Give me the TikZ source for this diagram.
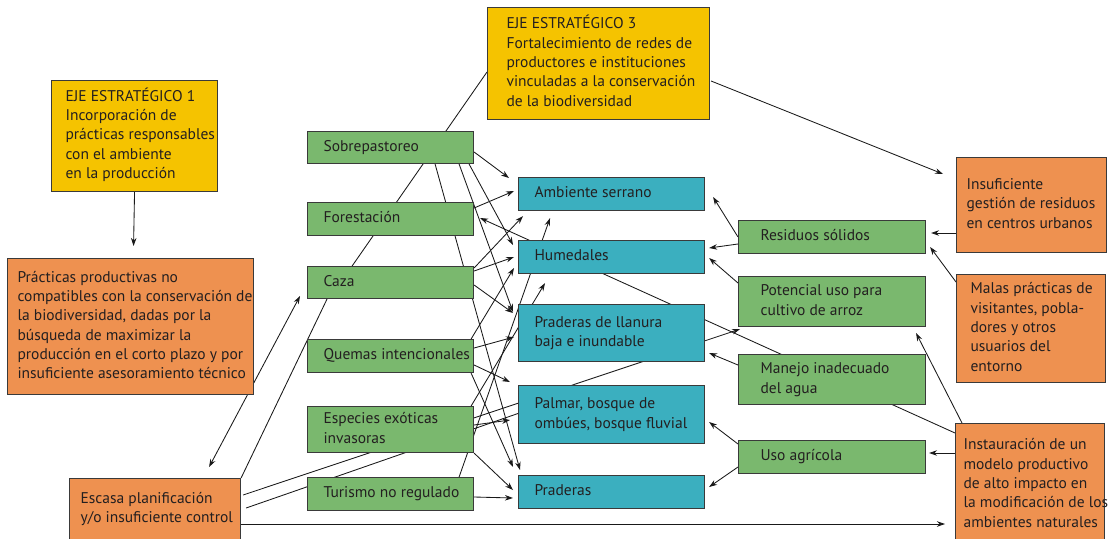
\documentclass[tikz,border=0pt]{standalone}
\usepackage{fontspec}
\setmainfont{PT Sans}
\usetikzlibrary{arrows.meta,calc}
\definecolor{gfill}{HTML}{7AB86E}
\definecolor{tfill}{HTML}{3BAFBF}
\definecolor{ofill}{HTML}{EE9150}
\definecolor{yfill}{HTML}{F5C300}
\definecolor{bcol}{HTML}{3A3A3A}
\definecolor{tcol}{HTML}{231F20}
\pgfdeclarelayer{bg}
\pgfsetlayers{bg,main}
\newcommand\bx[2]{\makebox[#1][l]{\begin{tabular}{@{}l@{}}#2\end{tabular}}}
\begin{document}
\begin{tikzpicture}[x=1pt,y=-1pt,
  box/.style={draw=bcol, line width=1.1pt, anchor=north west, inner ysep=0pt, text=tcol,
    font=\fontsize{15.5}{19.3}\selectfont},
  gbox/.style={box, fill=gfill, inner xsep=16pt, minimum width=166pt},
  tbox/.style={box, fill=tfill, inner xsep=16pt, minimum width=186pt},
  rbox/.style={box, fill=gfill, inner xsep=22pt, minimum width=187pt},
  obox/.style={box, fill=ofill},
  ybox/.style={box, fill=yfill},
  conn/.style={line width=0.85pt, draw=black!90},
  arr/.style={conn, -{Stealth[length=8pt,width=5.5pt]}},
  darr/.style={conn, {Stealth[length=8pt,width=5.5pt]}-{Stealth[length=8pt,width=5.5pt]}},
]
\useasboundingbox (0,0) rectangle (1118,538);

% strategic axes
\node[ybox, inner xsep=14pt, minimum width=166pt, minimum height=111pt] (eje1) at (51,80)
  {\bx{138pt}{EJE ESTRATÉGICO 1\\Incorporación de\\prácticas responsables\\con el ambiente\\en la producción}};
\node[ybox, inner xsep=19pt, minimum width=222pt, minimum height=112pt] (eje3) at (487,7)
  {\bx{184pt}{EJE ESTRATÉGICO 3\\Fortalecimiento de redes de\\productores e instituciones\\vinculadas a la conservación\\de la biodiversidad}};

% orange causes
\node[obox, inner xsep=10pt, minimum width=246pt, minimum height=136pt] (prac) at (7,258)
  {\bx{226pt}{Prácticas productivas no\\compatibles con la conservación de\\la biodiversidad, dadas por la\\búsqueda de maximizar la\\producción en el corto plazo y por\\insuficiente asesoramiento técnico}};
\node[obox, inner xsep=11pt, minimum width=171pt, minimum height=61pt] (esc) at (69,478)
  {\bx{149pt}{Escasa planificación\\y/o insuficiente control}};
\node[obox, inner xsep=10pt, minimum width=150pt, minimum height=95pt] (insf) at (956,157)
  {\bx{130pt}{Insuficiente\\gestión de residuos\\en centros urbanos}};
\node[obox, inner xsep=14pt, minimum width=149pt, minimum height=108pt] (mal) at (956,274)
  {\bx{121pt}{Malas prácticas de\\visitantes, pobla-\\dores y otros\\usuarios del\\entorno}};
\node[obox, inner xsep=8pt, minimum width=149pt, minimum height=122pt] (inst) at (955,423)
  {\bx{133pt}{Instauración de un\\modelo productivo\\de alto impacto en\\la modificación de los\\ambientes naturales}};

% green threats (left)
\node[gbox, minimum height=32pt] (sob) at (307,131) {\bx{134pt}{Sobrepastoreo}};
\node[gbox, minimum height=33pt] (for) at (307,202) {\bx{134pt}{Forestación}};
\node[gbox, minimum height=32pt] (caz) at (307,266) {\bx{134pt}{Caza}};
\node[gbox, minimum height=33pt] (que) at (307,339) {\bx{134pt}{Quemas intencionales}};
\node[gbox, minimum height=46pt] (esp) at (307,406) {\bx{134pt}{Especies exóticas\\invasoras}};
\node[gbox, minimum height=33pt] (tur) at (307,477) {\bx{134pt}{Turismo no regulado}};

% teal environments
\node[tbox, minimum height=33pt] (amb) at (518,177) {\bx{154pt}{Ambiente serrano}};
\node[tbox, minimum height=33pt] (hum) at (518,240) {\bx{154pt}{Humedales}};
\node[tbox, minimum height=57pt] (pll) at (518,304) {\bx{154pt}{Praderas de llanura\\baja e inundable}};
\node[tbox, minimum height=58pt] (pal) at (518,385) {\bx{154pt}{Palmar, bosque de\\ombúes, bosque fluvial}};
\node[tbox, minimum height=33pt] (pra) at (518,475) {\bx{154pt}{Praderas}};

% green threats (right)
\node[rbox, minimum height=33pt] (res) at (738,220) {\bx{143pt}{Residuos sólidos}};
\node[rbox, minimum height=50pt] (pot) at (738,276) {\bx{143pt}{Potencial uso para\\cultivo de arroz}};
\node[rbox, minimum height=50pt] (man) at (738,354) {\bx{143pt}{Manejo inadecuado\\del agua}};
\node[rbox, minimum height=33pt] (uso) at (738,440) {\bx{143pt}{Uso agrícola}};

\begin{pgfonlayer}{bg}
\fill[white] (0,0) rectangle (1118,538);
% strategic links
\draw[arr] (eje1.south) -- ([shift={(3,-12)}]prac.north);
\draw[arr] ([shift={(1,74)}]eje3.north east) -- ([shift={(-13,17)}]insf.north west);
\draw[conn] ([shift={(0,65)}]eje3.north west) -- ([shift={(34,16)}]caz.north west);
% right side
\draw[arr] ([shift={(0,76)}]insf.north west) -- ([shift={(5,13)}]res.north east);
\draw[arr] ([shift={(0,8)}]mal.north west) -- ([shift={(4,27)}]res.north east);
\draw[arr] ([shift={(7,0)}]inst.north west) -- ([shift={(-10,6)}]pot.south east);
\draw[arr] ([shift={(0,30)}]inst.north west) -- ([shift={(3,13)}]uso.north east);
\draw[arr] ([shift={(0,10)}]inst.north west) -- ([shift={(6,16)}]for.north east);
\draw[arr] ([shift={(0,17)}]res.north west) -- ([shift={(8,20)}]amb.north east);
\draw[arr] ([shift={(0,24)}]res.north west) -- ([shift={(4,8)}]hum.north east);
\draw[arr] ([shift={(0,7)}]pot.north west) -- ([shift={(4,18)}]hum.north east);
\draw[arr] ([shift={(0,11)}]man.north west) -- ([shift={(4,49)}]pll.north east);
\draw[arr] ([shift={(0,4)}]uso.north west) -- ([shift={(4,37)}]pal.north east);
\draw[arr] ([shift={(0,27)}]uso.north west) -- ([shift={(4,12)}]pra.north east);
% escasa
\draw[arr] ([shift={(0,46)}]esc.north east) -- ([shift={(-10,101)}]inst.north west);
\draw[darr] ([shift={(-32,-11)}]esc.north east) -- ([shift={(-7,30)}]caz.north west);
\draw[conn] (esc.north east) -- ([shift={(20,0)}]caz.south west);
\draw[arr] ([shift={(2,17)}]esc.north east) -- ([shift={(2,2)}]pot.south west);
\draw[conn] ([shift={(5,30)}]esc.north east) -- ([shift={(10,25)}]pal.north west);
% middle
\draw[arr] ([shift={(0,21)}]sob.north east) -- ([shift={(-9,1)}]amb.north west);
\draw[arr] ([shift={(-5,0)}]sob.south east) -- ([shift={(-5,5)}]hum.north west);
\draw[arr] ([shift={(-15,0)}]sob.south east) -- ([shift={(-5,8)}]pll.north west);
\draw[arr] ([shift={(-39,0)}]sob.south east) -- ([shift={(2,-5)}]pra.north west);
\draw[arr] ([shift={(0,6)}]for.north east) -- ([shift={(-4,14)}]amb.north west);
\draw[arr] ([shift={(0,2)}]caz.north east) -- ([shift={(5,5)}]amb.south west);
\draw[arr] ([shift={(0,5)}]caz.north east) -- ([shift={(-4,17)}]hum.north west);
\draw[arr] ([shift={(0,19)}]caz.north east) -- ([shift={(-5,9)}]pll.north west);
\draw[arr] ([shift={(0,9)}]que.north east) -- ([shift={(-4,33)}]pll.north west);
\draw[arr] ([shift={(0,26)}]que.north east) -- ([shift={(-8,-3)}]pal.north west);
\draw[arr] ([shift={(-3,0)}]que.south east) -- ([shift={(-5,-8)}]pra.north west);
\draw[arr] ([shift={(-3,0)}]que.north east) -- ([shift={(-4,28)}]hum.north west);
\draw[arr] ([shift={(0,19)}]esp.north east) -- ([shift={(-8,35)}]pal.north west);
\draw[arr] (esp.south east) -- ([shift={(-5,15)}]pra.north west);
\draw[arr] ([shift={(-3,0)}]esp.north east) -- ([shift={(27,9)}]hum.south west);
\draw[arr] ([shift={(-15,0)}]tur.north east) -- ([shift={(32,7)}]amb.south west);
\draw[arr] ([shift={(0,20)}]tur.north east) -- ([shift={(-5,23)}]pra.north west);
\end{pgfonlayer}
\end{tikzpicture}
\end{document}
